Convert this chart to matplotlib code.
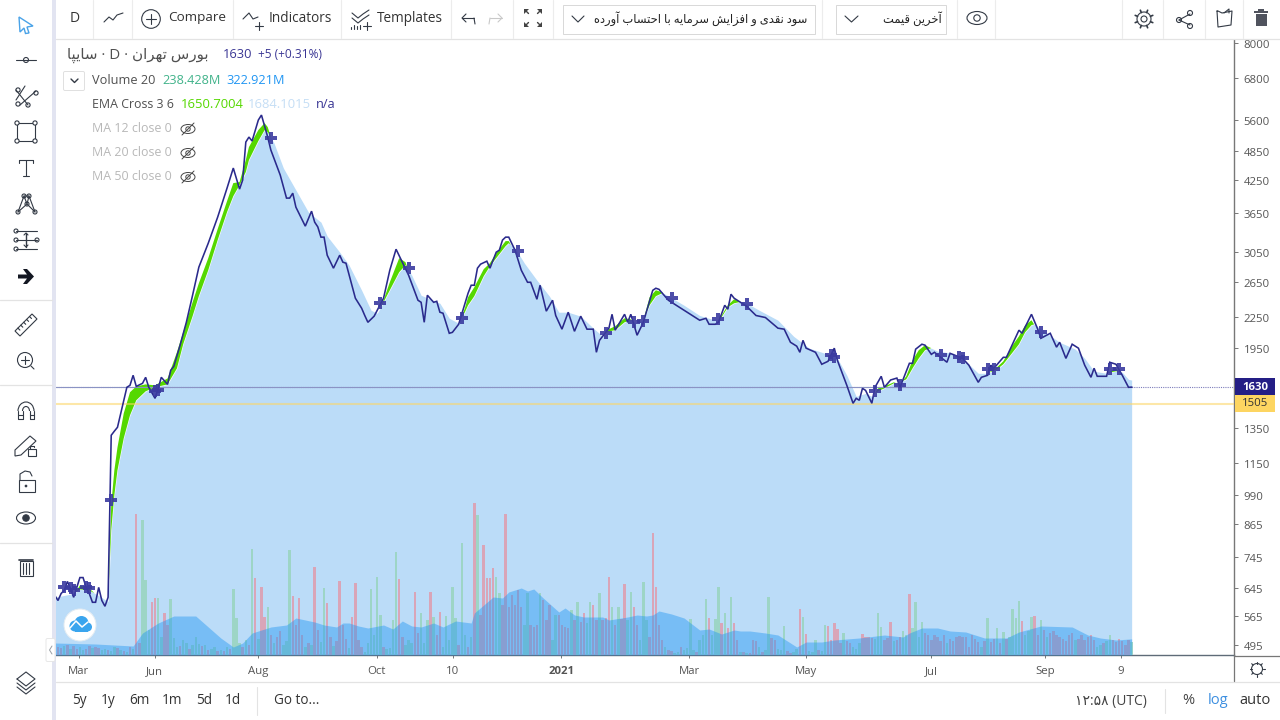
import matplotlib
matplotlib.use("Agg")
import numpy as np
import matplotlib.pyplot as plt
import matplotlib.transforms as mtrans
from matplotlib.patches import Circle, Rectangle, FancyBboxPatch, Polygon, Ellipse, Arc
from matplotlib.ticker import NullLocator

plt.rcParams['font.family'] = ['Open Sans', 'DejaVu Sans']

# ---------- data ----------
close_bar = [-1,0,1,2,3,4,5,6,7,8,9,10,11,12,13,14,15,16,17,18,19,22,23,24,25,27,28,29,31,32,33,35,36,37,39,41,43,45,
             48,51,54,56,58,59,60,61,62,64,65,67,68,71,73,74,75,76,79,81,82,83,84,85,86,88,90,91,92,95,97,98,99,101,
             104,106,108,112,115,116,117,118,120,121,122,123,125,126,128,131,132,133,134,135,137,138,140,141,142,143,
             144,146,148,150,151,153,154,156,158,159,161,163,165,167,169,171,172,173,176,177,178,181,182,183,185,187,
             190,191,192,195,200,201,205,207,208,210,211,213,214,215,216,220,223,226,230,232,234,236,237,238,239,242,
             244,246,248,249,252,254,255,256,257,258,260,261,263,264,266,268,269,272,273,274,276,277,279,280,284,285,
             289,291,294,295,297,298,299,302,303,307,308,311,313,314,317,319,320,322,324,326,328,330,331,332,335,336,
             338,340,342,343]
close_price = [622,608,628,637,664,643,617,646,676,676,646,628,603,603,646,608,592,617,1305,1330,1354,1629,1644,1722,1636,1659,
               1706,1629,1548,1621,1706,1651,1762,1795,1979,2200,2494,2839,3171,3576,4090,4488,4072,4247,5061,5179,5085,
               5603,5734,5179,4878,4344,3906,3906,3996,3746,3431,3677,3495,3419,3261,3261,3000,2825,3000,2905,2891,2459,
               2348,2270,2200,2263,2459,2799,3084,2735,2436,2413,2200,2493,2413,2424,2305,2294,2091,2100,2180,2516,2611,
               2611,2825,2878,2918,2825,3042,3071,3217,3261,3261,3071,2799,2647,2647,2447,2611,2316,2436,2270,2131,2305,
               2110,2263,2131,2131,1915,2024,2141,2283,2121,2283,2200,2283,2072,2200,2550,2575,2562,2436,2326,2305,2221,
               2241,2180,2180,2200,2380,2337,2505,2459,2369,2270,2249,2141,2131,2006,1970,1915,2024,1952,1915,1812,1837,
               1952,1845,1644,1513,1548,1534,1621,1606,1513,1629,1714,1629,1685,1700,1629,1820,1820,1943,1988,1979,1897,
               1915,1829,1906,1862,1804,1667,1706,1722,1804,1779,1871,1871,2121,2091,2283,2131,2043,2091,1961,2006,1862,
               1988,1952,1804,1706,1779,1714,1714,1829,1812,1722,1629,1630]

ema_bar = [-1,5,7,10,13,16,17,18,19,21,23,25,28,31,35,38,40,43,45,48,51,54,56,58,60,61,64,66,67,69,72,76,80,84,86,90,93,97,
           100,102,104,106,109,111,113,116,119,122,125,128,130,131,133,136,138,140,143,144,146,149,153,157,160,163,167,
           171,174,176,178,181,183,185,187,189,191,193,194,200,205,210,212,214,216,219,224,230,235,240,245,249,252,255,
           258,260,262,264,267,269,271,273,275,277,279,281,286,290,294,297,300,302,305,307,309,311,312,315,320,325,328,
           331,335,338,340,342,343]
ema_slow = [617,628,640,637,622,605,840,989,1110,1287,1431,1534,1599,1629,1651,1778,1988,2263,2482,2799,3216,3661,3941,4147,
            4405,4657,5085,5349,5300,5037,4488,4053,3661,3495,3276,3042,2864,2551,2326,2294,2413,2551,2773,2864,2735,2493,
            2447,2402,2241,2190,2305,2380,2482,2722,2851,2959,3128,3171,3099,2891,2672,2482,2305,2305,2263,2141,2062,2110,
            2121,2200,2221,2190,2225,2380,2482,2516,2505,2380,2270,2221,2252,2358,2402,2424,2326,2221,2062,1952,1906,1862,
            1722,1562,1584,1562,1599,1621,1659,1667,1690,1778,1862,1934,1952,1925,1906,1837,1738,1738,1770,1812,1915,1988,
            2101,2171,2180,2110,2006,1943,1862,1754,1738,1754,1746,1690,1684.1015]
ema_fast = [608,622,652,643,617,600,944,1110,1234,1444,1592,1636,1651,1644,1697,1916,2101,2414,2635,2959,3384,3851,4186,4206,
            4657,4945,5349,5525,5424,4945,4284,3781,3495,3290,3070,2959,2773,2436,2263,2283,2436,2647,2959,2905,2672,2413,
            2380,2326,2161,2180,2348,2470,2587,2812,2891,3028,3202,3202,3042,2799,2528,2369,2221,2270,2200,2072,2043,2131,
            2160,2241,2231,2131,2221,2470,2551,2528,2482,2348,2241,2200,2270,2380,2447,2402,2294,2171,2006,1934,1862,1862,
            1659,1548,1562,1548,1621,1636,1667,1651,1714,1845,1934,1979,1952,1915,1880,1820,1706,1738,1787,1837,1979,2062,
            2171,2221,2171,2062,1952,1915,1812,1746,1738,1778,1722,1644,1650.7004]

cross_bar = [2,4,5,9,10,17,31,32,68,103,112,129,147,175,184,187,196,211,220,247,248,261,269,282,288,289,297,299,314,336,339]
cross_price = [646,643,637,646,643,967,1599,1607,5155,2402,2825,2241,3056,2091,2200,2211,2459,2231,2391,1888,1871,1599,1644,
               1888,1871,1862,1770,1770,2101,1770,1770]

volume_m = [
    160,140,180,200,120,180,120,160,100,120,
    180,140,160,140,100,120,100,80,160,140,
    100,80,60,160,120,2820,240,2700,1500,500,
    1060,1140,1140,360,840,600,1120,340,160,180,
    300,240,120,200,360,220,180,200,100,120,
    160,80,100,80,160,120,1320,740,240,160,
    300,200,2120,1540,320,1360,760,960,400,240,
    360,480,200,280,2100,1180,600,1140,400,160,
    240,200,1760,500,260,1340,1040,360,180,280,
    1480,600,320,140,760,1440,300,160,60,240,
    1320,400,1560,800,160,120,140,700,2060,1520,
    360,200,300,240,1260,440,840,240,700,1260,
    760,400,860,160,780,300,1360,740,200,2240,
    400,160,360,3040,2800,800,2200,1540,1540,1740,
    1560,1240,1000,2820,960,1200,1000,1300,960,600,
    1240,600,560,600,1240,1100,700,1000,300,800,
    800,600,560,540,900,700,1060,660,840,640,
    1060,1000,700,1240,700,740,1560,960,600,960,
    720,1420,700,1260,960,600,300,1460,700,360,
    2440,1360,600,300,160,100,80,40,60,160,
    100,140,720,100,60,300,400,1120,740,400,
    720,1360,640,840,540,1160,640,300,60,60,
    40,40,300,280,160,60,100,1160,340,300,
    120,100,580,80,40,60,120,920,760,420,
    80,60,300,100,80,600,580,300,640,520,
    240,440,280,240,160,120,240,420,360,360,
    340,320,840,560,300,340,660,280,300,360,
    480,400,1220,540,1060,360,660,440,400,300,
    400,360,280,400,240,320,280,360,380,360,
    360,160,400,320,260,160,280,740,260,320,
    540,240,460,320,360,920,740,1080,680,400,
    480,760,780,400,700,500,360,440,480,400,
    360,320,280,400,440,300,320,400,300,360,
    400,300,160,200,240,280,400,300,260,320,
    280,200,300,260]
volume_side = ("rrgrgrrggr" "rgrrggrggr" "grgrgrrggg" "rrggrrgggr" "ggrgggrgrg"
               "grgrgrgggr" "grgrgrrgrg" "rrgggrrrrg" "rgrrggrrgr" "rrrgrrrrgg"
               "ggggrggggr" "rgggrrgggr" "grrgggggrg" "grgrgrrrrr" "ggrrrrrrrg"
               "grrrgrrrgg" "rrrrgrgrrg" "grrgrrrgrg" "rrggrrgggr" "rrrrgrrggr"
               "ggggrgggrg" "ggrgrgrrgr" "grrrgrggrr" "gggrrggrgr" "gggrggrrrr"
               "rgrrgggrrr" "rgggrrrgrr" "ggrggggrrr" "rrrrgrrrrr" "rrrrrgrgrr"
               "grgrggggrg" "ggrrgrgrrr" "rrrrrgrrrr" "rrggrggrrr" "rrrg")

vol_ma_bar = [-1,12,24,27,32,37,44,48,52,56,59,62,68,73,76,82,85,89,91,93,96,99,104,107,110,113,116,120,123,127,132,133,136,
              139,142,144,148,150,152,155,160,162,165,168,174,176,182,185,188,190,192,196,200,205,208,212,216,218,221,226,
              230,236,239,244,248,256,264,270,272,276,281,285,290,296,303,307,314,324,329,333,338,343]
vol_ma_m = [240,220,180,440,640,780,780,560,340,160,240,440,560,600,740,660,600,560,640,640,580,540,600,520,680,580,560,640,
            560,680,640,840,1000,1160,1140,1260,1340,1280,1320,1140,860,940,800,760,760,700,760,800,780,800,880,820,740,500,
            520,420,500,480,480,440,400,160,260,260,300,340,400,360,440,540,540,480,460,340,340,460,580,560,400,340,300,322.921]

price_ticks = [8000,6800,5600,4850,4250,3650,3050,2650,2250,1950,1350,1150,990,865,745,645,565,495]
date_tick_bar = [6.6,30.9,64,101.8,126.2,160.7,201.6,239,278.9,315.3,339.6]
date_tick_label = ['Mar','Jun','Aug','Oct','10','2021','Mar','May','Jul','Sep','9']
last_close = 1630
alert_level = 1505

# ---------- Persian text shaping (matplotlib draws left to right, unjoined) ----------
FORMS = {'ا':(0xFE8D,0xFE8E),'آ':(0xFE81,0xFE82),'د':(0xFEA9,0xFEAA),'ر':(0xFEAD,0xFEAE),'ز':(0xFEAF,0xFEB0),'و':(0xFEED,0xFEEE),
         'ب':(0xFE8F,0xFE90,0xFE91,0xFE92),'پ':(0xFB56,0xFB57,0xFB58,0xFB59),'ت':(0xFE95,0xFE96,0xFE97,0xFE98),
         'ح':(0xFEA1,0xFEA2,0xFEA3,0xFEA4),'خ':(0xFEA5,0xFEA6,0xFEA7,0xFEA8),'س':(0xFEB1,0xFEB2,0xFEB3,0xFEB4),
         'ش':(0xFEB5,0xFEB6,0xFEB7,0xFEB8),'ف':(0xFED1,0xFED2,0xFED3,0xFED4),'ق':(0xFED5,0xFED6,0xFED7,0xFED8),
         'م':(0xFEE1,0xFEE2,0xFEE3,0xFEE4),'ن':(0xFEE5,0xFEE6,0xFEE7,0xFEE8),'ه':(0xFEE9,0xFEEA,0xFEEB,0xFEEC),
         'ی':(0xFBFC,0xFBFD,0xFBFE,0xFBFF)}

def fa(s):
    out = []
    for k, ch in enumerate(s):
        f = FORMS.get(ch)
        if f is None:
            out.append(ch)
            continue
        prev = FORMS.get(s[k-1]) if k else None
        nxt = FORMS.get(s[k+1]) if k + 1 < len(s) else None
        after = prev is not None and len(prev) == 4
        before = nxt is not None and len(f) == 4
        idx = 3 if after and before else 1 if after else 2 if before else 0
        out.append(chr(f[idx]))
    return ''.join(reversed(out))

# ---------- chart ----------
W, H = 1280, 720
fig = plt.figure(figsize=(W/100, H/100), dpi=100, facecolor='white')
rect = [56/W, 1-655/H, (1234-56)/W, (655-40)/H]
ax = fig.add_axes(rect, zorder=1)
xlim = (-0.64, 375.7)
ylim = (472.6, 8112)

vax = ax.twinx()
top = ax.twinx()
for a in (ax, top):
    a.set_yscale('log')
    a.set_ylim(*ylim)
    a.yaxis.set_minor_locator(NullLocator())
ax.set_xlim(*xlim)
vax.set_ylim(0, 615*20)
vax.set_zorder(2); vax.patch.set_visible(False); vax.axis('off')
top.set_zorder(3); top.patch.set_visible(False); top.axis('off')

ax.fill_between(ema_bar, ema_slow, ylim[0], color='#bbdcf8', lw=0)

bar_idx = np.arange(len(volume_m))
bar_colors = ['#9dd5c6' if c == 'g' else '#d9a5b8' for c in volume_side]
vax.bar(bar_idx, volume_m, width=0.78, color=bar_colors, lw=0)
vax.fill_between(vol_ma_bar, vol_ma_m, 0, color='#2196f3', alpha=0.44, lw=0)

fast = np.array(ema_fast); slow = np.array(ema_slow)
top.fill_between(ema_bar, slow, fast, where=fast > slow, interpolate=True, color='#55d800', lw=0)
top.axhline(alert_level, color='#fdd561', alpha=0.55, lw=1.5)
top.axhline(last_close, color='#7d7dbb', lw=0.8, ls=(0, (1, 1)))
top.plot([xlim[0], close_bar[-1]], [last_close, last_close], color='#8b93c4', lw=0.8)
top.plot(close_bar, close_price, color='#2a2a8c', lw=1.15, solid_joinstyle='miter')
top.plot(cross_bar, cross_price, ls='none', marker='P', ms=9.3, mew=0, color='#3b3ba0', alpha=0.9)
top.set_xlim(*xlim); vax.set_xlim(*xlim)

ax.yaxis.tick_right()
ax.set_yticks(price_ticks)
ax.set_yticklabels([str(p) for p in price_ticks], fontsize=8.2, color='#555555')
ax.yaxis.set_minor_locator(NullLocator())
ax.set_xticks(date_tick_bar)
ax.set_xticklabels(date_tick_label, fontsize=8.2, color='#555555')
ax.get_xticklabels()[5].set_fontweight('bold')
ax.tick_params(axis='x', length=2.5, width=0.7, color='#777777', pad=5.7)
ax.tick_params(axis='y', length=3, width=0.7, color='#777777', pad=4)
down_1px = mtrans.ScaledTranslation(0, -1/100, fig.dpi_scale_trans)
for lab in ax.get_yticklabels():
    lab.set_transform(lab.get_transform() + down_1px)
for s in ('top', 'left'):
    ax.spines[s].set_visible(False)
ax.spines['right'].set_color('#777777')
ax.spines['bottom'].set_color('#5f6b78')
for s in ('right', 'bottom'):
    ax.spines[s].set_linewidth(1)

# ---------- interface around the chart ----------
u = fig.add_axes([0, 0, 1, 1], zorder=10)
u.set_xlim(0, W); u.set_ylim(H, 0); u.axis('off'); u.patch.set_visible(False)
DK = '#333a45'

def ln(xs, ys, c=DK, lw=0.8):
    u.plot(xs, ys, color=c, lw=lw, solid_capstyle='round', solid_joinstyle='round')
def cir(x, y, r, fc='none', ec=DK, lw=0.8):
    u.add_patch(Circle((x, y), r, fc=fc, ec=ec, lw=lw))
def txt(x, y, s, size=9.5, c='#333333', ha='left', **kw):
    u.text(x, y + 1, s, fontsize=size, color=c, ha=ha, va='center', **kw)

# bands and separators
u.add_patch(Rectangle((52, 0), 4, H, fc='#e2e4f1', ec='none'))
ln([56, 1280], [38.5, 38.5], '#e3e3e3', 0.9)
ln([56, 1280], [681.5, 681.5], '#e3e3e3', 0.9)
ln([1234, 1234], [655, 681], '#777777', 0.9)
ln([1234, 1280], [655.5, 655.5], '#777777', 0.9)
for y in (300, 385, 543):
    ln([0, 52], [y, y], '#e3e3e3', 0.9)
for x in (93, 132, 233, 341, 451, 513, 553, 822, 957, 995, 1122, 1163, 1205, 1243):
    ln([x, x], [0, 38], '#ececec', 0.8)
ln([257, 257], [687, 715], '#e3e3e3', 0.8)
ln([1165, 1165], [689, 713], '#e3e3e3', 0.8)
u.add_patch(FancyBboxPatch((47.5, 640), 6, 20, boxstyle='round,pad=1.5', fc='white', ec='#e4e4e4', lw=0.6))
ln([52, 49.5, 52], [646, 650, 654], '#9aa0a6', 0.7)

# left toolbar icons
u.add_patch(Polygon([[19, 17], [33, 26], [27, 27], [29, 33], [25.5, 33.5], [24, 28], [20, 32]], closed=True, fc='white', ec='#4aa3e8', lw=1))
ln([16, 36], [60, 60]); cir(26, 60, 2.5, fc='white')
ln([16, 25], [100, 86]); ln([20, 36], [105, 91]); ln([16, 28], [90, 105])
for p in ((18, 90), (18, 104), (28, 105), (36, 93)):
    cir(p[0], p[1], 2.1, fc='white')
u.add_patch(Rectangle((17, 123), 18, 18, fc='none', ec=DK, lw=0.8))
for p in ((17, 123), (35, 123), (17, 141), (35, 141)):
    cir(p[0], p[1], 2.1, fc='white')
ln([19, 33], [160, 160]); ln([26, 26], [160, 176]); ln([23, 29], [176, 176]); ln([19, 19], [160, 163]); ln([33, 33], [160, 163])
ln([18, 24, 29, 35], [212, 196, 196, 212]); ln([24, 27, 29], [196, 204, 196]); ln([18, 27, 35], [212, 204, 212])
for p in ((18, 212), (24, 196), (29, 196), (35, 212), (27, 204)):
    cir(p[0], p[1], 2, fc='white')
for y in (231, 240, 249):
    ln([16, 37], [y, y]); cir(16, y, 2, fc='white')
cir(37, 240, 2, fc='white'); ln([26, 26], [233, 247], lw=1); ln([24, 26, 28], [235, 233, 235]); ln([24, 26, 28], [245, 247, 245])
u.add_patch(Polygon([[18, 274.5], [27, 274.5], [23, 269], [27, 269], [34, 276.5], [27, 284], [23, 284], [27, 278.5], [18, 278.5]], closed=True, fc='#131722', ec='none'))
u.add_patch(Polygon([[15, 331], [32, 314], [37, 319], [20, 336]], closed=True, fc='none', ec=DK, lw=0.8))
for k in range(1, 6):
    ln([15+k*2.9, 17+k*2.9], [331-k*2.9, 333-k*2.9])
cir(25, 360, 7.5); ln([25, 25], [356, 364]); ln([21, 29], [360, 360]); ln([31, 34], [366, 369])
u.add_patch(Arc((26, 411), 16, 18, theta1=180, theta2=360, ec=DK, lw=0.8))
u.add_patch(Arc((26, 411), 7, 9, theta1=180, theta2=360, ec=DK, lw=0.8))
ln([18, 18, 22.5, 22.5], [411, 419, 419, 411]); ln([29.5, 29.5, 34, 34], [411, 419, 419, 411])
ln([18, 22.5], [415, 415]); ln([29.5, 34], [415, 415])
u.add_patch(Polygon([[15, 450], [30, 436], [36, 441], [21, 455], [15, 456]], closed=True, fc='none', ec=DK, lw=0.8))
u.add_patch(Rectangle((28, 449), 8, 7, fc='white', ec=DK, lw=0.8)); ln([30, 30, 34, 34], [449, 446, 446, 447])
u.add_patch(Rectangle((18.5, 480), 16, 12, fc='none', ec=DK, lw=0.8)); ln([20, 20, 25, 30, 32], [480, 474, 471, 472, 476]); cir(26, 486, 0.8, fc=DK)
u.add_patch(Ellipse((26, 518), 19, 12, fc='none', ec=DK, lw=0.8)); cir(26, 518, 3.2, fc=DK)
u.add_patch(Rectangle((19.5, 561), 13, 15, fc='none', ec=DK, lw=0.8)); ln([19, 33], [560, 560], lw=1.2)
for x in (23, 26, 29):
    ln([x, x], [563, 574])
ln([17, 26, 35, 26, 17], [679, 672, 679, 686, 679]); ln([17, 26, 35], [683, 690, 683]); ln([17, 26, 35], [687, 694, 687])

# top toolbar
txt(75, 18, 'D', 10, '#333333', ha='center')
ln([104, 109, 113, 117, 123], [22, 17, 20, 15, 13], '#333a45', 0.8)
cir(151, 19, 9.3); ln([146, 156], [19, 19]); ln([151, 151], [14, 24])
txt(168, 17, 'Compare', 9.7)
ln([243, 249, 253, 258], [19, 13, 19, 17]); ln([259, 259], [22, 30]); ln([255, 263], [26, 26])
txt(269, 17, 'Indicators', 9.8)
ln([352, 358, 363, 369], [13, 18, 14, 10]); ln([352, 358, 363, 369], [18, 23, 19, 15])
ln([367, 367], [22, 30]); ln([363, 371], [26, 26]); ln([351, 351], [27, 29]); ln([354, 354], [25, 29]); ln([357, 357], [26, 29]); ln([360, 360], [25, 29])
txt(377, 17, 'Templates', 9.8)
ln([462, 474], [18, 18]); ln([466, 462, 466], [14, 18, 22]); ln([474, 475], [18, 24])
ln([490, 502], [18, 18], '#c9c9c9'); ln([498, 502, 498], [14, 18, 22], '#c9c9c9'); ln([490, 489], [18, 24], '#c9c9c9')
for sx, sy in ((-1, -1), (1, -1), (-1, 1), (1, 1)):
    u.add_patch(Polygon([[533+sx*9, 18+sy*9], [533+sx*4, 18+sy*9], [533+sx*9, 18+sy*4]], closed=True, fc='#444444', ec='none'))
    ln([533+sx*8, 533+sx*4.5], [18+sy*8, 18+sy*4.5], '#444444', 1)
u.add_patch(Rectangle((562.5, 4.5), 252, 29, fc='white', ec='#d8d8d8', lw=0.7))
ln([572, 578, 584], [16, 22, 16])
txt(807, 18, fa('سود نقدی و افزایش سرمایه با احتساب آورده'), 8.3, '#222222', ha='right')
u.add_patch(Rectangle((836, 4.5), 110, 29, fc='white', ec='#d8d8d8', lw=0.7))
ln([845, 851.5, 858], [16, 22, 16])
txt(942, 18, fa('آخرین قیمت'), 8.3, '#222222', ha='right')
u.add_patch(Ellipse((977, 18), 20, 13, fc='none', ec=DK, lw=0.8)); cir(977, 18, 3.2)
cir(1144, 19, 3); cir(1144, 19, 7, lw=0.8)
for k in range(8):
    t = k*np.pi/4 + np.pi/8
    ln([1144+7*np.cos(t), 1144+9.5*np.cos(t)], [19+7*np.sin(t), 19+9.5*np.sin(t)], lw=1.2)
ln([1179, 1190], [20, 14]); ln([1179, 1190], [20, 25])
cir(1179, 20, 2.5, fc='white'); cir(1190, 13, 2.5, fc='white'); cir(1190, 26, 2.5, fc='white')
ln([1217, 1218, 1231, 1232, 1222, 1218, 1217], [11, 27, 25, 11, 13, 11, 11]); ln([1224, 1229, 1229], [13, 9, 13])
u.add_patch(Rectangle((1255.5, 14), 11, 12, fc='#50535e', ec='none')); u.add_patch(Rectangle((1254, 11), 14, 2, fc='#50535e', ec='none')); u.add_patch(Rectangle((1258, 9), 6, 2, fc='#50535e', ec='none'))

# legend block
txt(67, 54, fa('سایپا') + ' · D · ' + fa('بورس تهران'), 10.9, '#505050')
txt(223, 54, '1630', 9.3, '#3a3694')
txt(258, 54, '+5 (+0.31%)', 8.6, '#3a3694')
u.add_patch(FancyBboxPatch((65, 73), 18, 16, boxstyle='round,pad=1.5', fc='white', ec='#e0e0e0', lw=0.7))
ln([71, 74.5, 78], [79, 82.5, 79], DK, 1)
txt(92, 80, 'Volume 20', 9.2, '#505050')
txt(162, 80, '238.428M', 9.2, '#41b38a')
txt(226, 80, '322.921M', 9.2, '#2196f3')
txt(92, 104, 'EMA Cross 3 6', 8.9, '#505050')
txt(181, 104, '1650.7004', 9.4, '#55d800')
txt(248, 104, '1684.1015', 9.4, '#c5def5')
txt(316, 104, 'n/a', 9.2, '#3a3694')
for y, n in ((128, 'MA 12 close 0'), (152, 'MA 20 close 0'), (176, 'MA 50 close 0')):
    txt(92, y, n, 8.9, '#b8b8b8')
    u.add_patch(Ellipse((188, y+1), 14, 9, fc='none', ec='#444444', lw=0.7))
    cir(188, y+1, 2.2, ec='#444444', lw=0.7)
    ln([182, 194], [y+7, y-5], '#444444', 0.7)

# cloud logo
cir(80, 625, 16, fc='white', ec='#e4ecf2', lw=0.7)
cir(75, 626, 5.5, fc='#3aa5ee', ec='none'); cir(81.5, 623, 7, fc='#3aa5ee', ec='none'); cir(87.5, 627, 4.5, fc='#3aa5ee', ec='none')
u.add_patch(Rectangle((75, 626), 13, 5.5, fc='#3aa5ee', ec='none'))
ln([70, 76, 82, 88], [628, 621, 627, 622], 'white', 1.1)

# price tags
u.add_patch(Rectangle((1235, 378), 40, 17, fc='#241e85', ec='none'))
txt(1255, 386, '1630', 8.2, 'white', ha='center', fontweight='bold')
u.add_patch(Rectangle((1235, 395), 40, 17, fc='#fdd561', ec='none'))
txt(1255, 403, '1505', 8.2, '#333333', ha='center')

# bottom bar
for x, s in ((79, '5y'), (108, '1y'), (139, '6m'), (172, '1m'), (204, '5d'), (233, '1d')):
    txt(x, 700, s, 9.8, '#333333', ha='center')
txt(274, 700, 'Go to...', 9.8)
txt(1075, 700, '۱۲:۵۸ (UTC)', 10, '#444444')
txt(1188, 700, '%', 10.5, '#444444', ha='center')
txt(1218, 700, 'log', 10.5, '#3d8fe0', ha='center')
txt(1255, 700, 'auto', 10.5, '#333333', ha='center')
cir(1257, 669, 5.5, lw=0.8)
for k in range(8):
    t = k*np.pi/4
    ln([1257+5.5*np.cos(t), 1257+7.5*np.cos(t)], [669+5.5*np.sin(t), 669+7.5*np.sin(t)])

fig.savefig('out.png', dpi=100)
